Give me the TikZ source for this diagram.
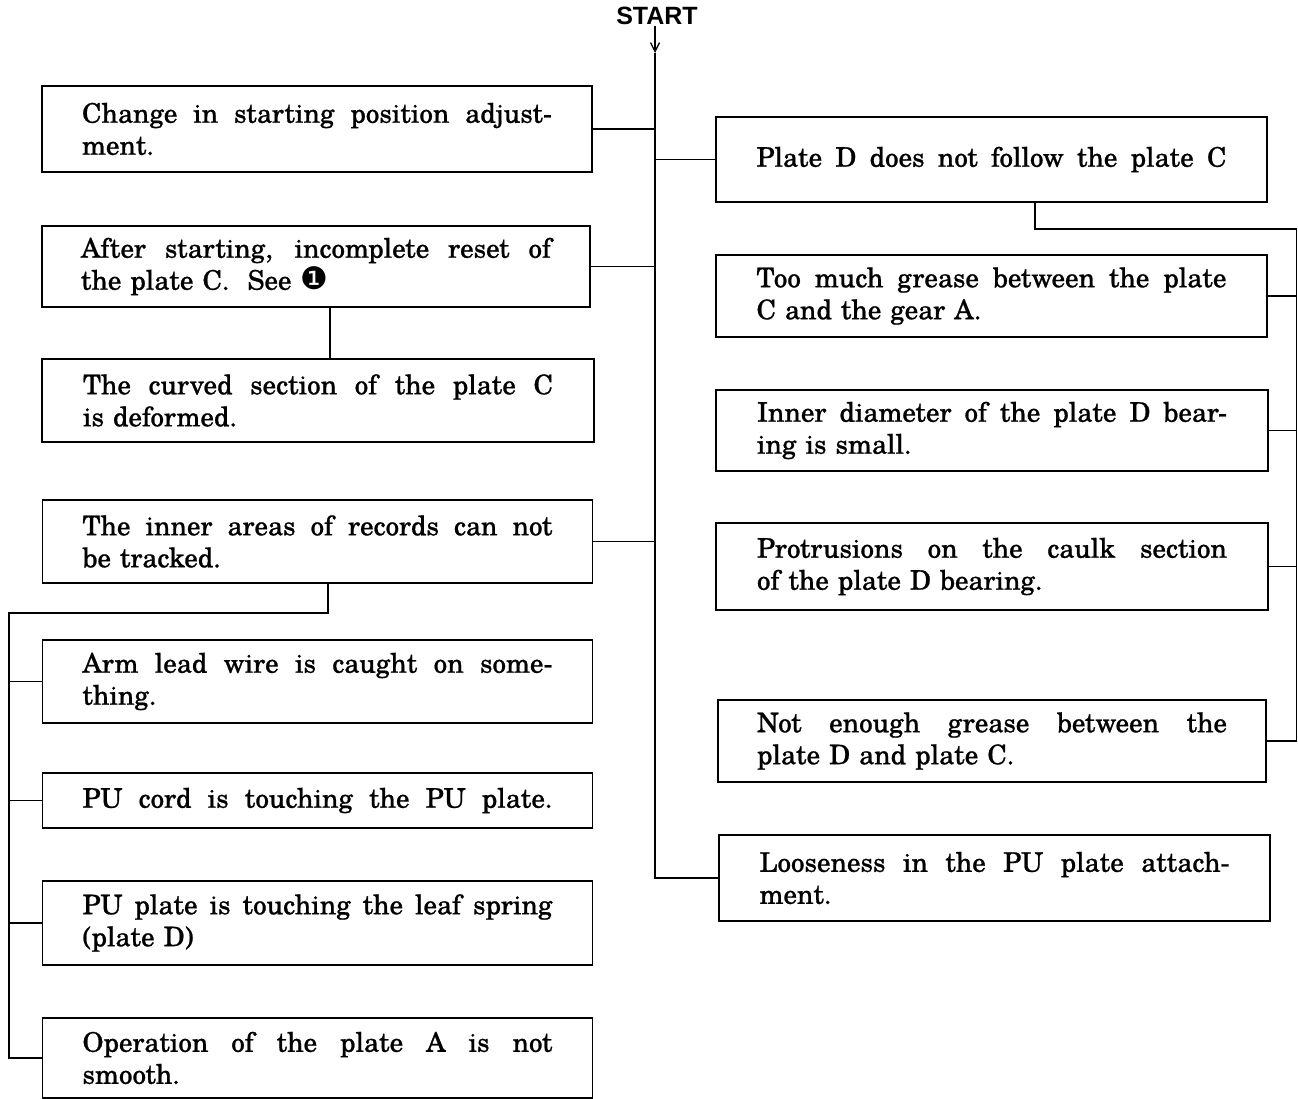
\documentclass[tikz,border=0pt]{standalone}
\usepackage{fontspec}
\setmainfont{TeX Gyre Schola}[FakeBold=0.8]
\newfontfamily\startfont{Liberation Sans}
\newfontfamily\dvfont{DejaVu Sans}
\usetikzlibrary{arrows.meta}
\newcommand\jline[1]{\makebox[470pt][s]{\spaceskip=\fontdimen2\font plus 1fil\relax\xspaceskip=\fontdimen2\font plus 1fil\relax #1}}
\newcommand\boxfont{\fontsize{27}{32}\selectfont}
\tikzset{
  cbox/.style={draw, line width=1.6pt, inner sep=0pt, text width=470pt, align=left, font=\boxfont, minimum width=550pt},
  conn/.style={line width=1.3pt},
}
\begin{document}
\begin{tikzpicture}[x=1pt,y=-1pt]
\useasboundingbox (0,0) rectangle (1298,1099);
% START
\node[font=\startfont\bfseries\fontsize{25}{28}\selectfont, inner sep=1pt] (start) at (657,16) {START};
% left boxes
\node[cbox, minimum height=86pt] (l1) at (317,129) {\jline{Change in starting position adjust-}\\ment.};
\node[cbox, minimum height=81pt, minimum width=548pt] (l2) at (316,266.5) {\jline{After starting, incomplete reset of}\\the plate C.\ \ See {\dvfont\fontsize{31}{32}\selectfont ❶}};
\node[cbox, minimum height=83pt, minimum width=552pt] (l3) at (318,400.5) {\jline{The curved section of the plate C}\\is deformed.};
\node[cbox, minimum height=83pt] (l4) at (317.5,541.5) {\jline{The inner areas of records can not}\\be tracked.};
\node[cbox, minimum height=83pt] (l5) at (317.5,681.5) {\jline{Arm lead wire is caught on some-}\\thing.};
\node[cbox, minimum height=55pt] (l6) at (317.5,800.5) {\jline{PU cord is touching the PU plate.}};
\node[cbox, minimum height=84pt] (l7) at (317.5,923) {\jline{PU plate is touching the leaf spring}\\(plate D)};
\node[cbox, minimum height=80pt] (l8) at (317.5,1058) {\jline{Operation of the plate A is not}\\smooth.};
% right boxes
\node[cbox, minimum height=85pt, minimum width=551pt] (r1) at (991.5,159.5) {\jline{Plate D does not follow the plate C}};
\node[cbox, minimum height=82pt, minimum width=551pt] (r2) at (991.5,296) {\jline{Too much grease between the plate}\\C and the gear A.};
\node[cbox, minimum height=81pt, minimum width=552pt] (r3) at (992,430.5) {\jline{Inner diameter of the plate D bear-}\\ing is small.};
\node[cbox, minimum height=87pt, minimum width=552pt] (r4) at (992,566.5) {\jline{Protrusions on the caulk section}\\of the plate D bearing.};
\node[cbox, minimum height=82pt, minimum width=548pt] (r5) at (992,741) {\jline{Not enough grease between the}\\plate D and plate C.};
\node[cbox, minimum height=86pt, minimum width=551pt] (r6) at (994.5,878) {\jline{Looseness in the PU plate attach-}\\ment.};
% trunk
\coordinate (tip) at (655,53);
\draw[conn, -{Straight Barb[length=9pt,width=9pt,line width=1.3pt]}] (start.south -| tip) -- (tip);
\draw[conn] (tip) |- (r6.west);
\draw[conn] (l1.east) -- (l1.east -| tip);
\draw[conn] (l2.east) -- (l2.east -| tip);
\draw[conn] (l4.east) -- (l4.east -| tip);
\draw[conn] (tip |- r1.west) -- (r1.west);
% l2 -> l3
\draw[conn] ([xshift=14pt]l2.south) -- ([xshift=14pt]l2.south |- l3.north);
% left bus
\coordinate (lb) at (9,613);
\draw[conn] ([xshift=10.5pt]l4.south) |- (lb) |- (l8.west);
\draw[conn] (lb |- l5.west) -- (l5.west);
\draw[conn] (lb |- l6.west) -- (l6.west);
\draw[conn] (lb |- l7.west) -- (l7.west);
% right bus
\coordinate (rb) at (1296.5,229);
\draw[conn] ([xshift=43.5pt]r1.south) |- (rb) |- (r5.east);
\draw[conn] (rb |- r2.east) -- (r2.east);
\draw[conn] (rb |- r3.east) -- (r3.east);
\draw[conn] (rb |- r4.east) -- (r4.east);
\end{tikzpicture}
\end{document}
